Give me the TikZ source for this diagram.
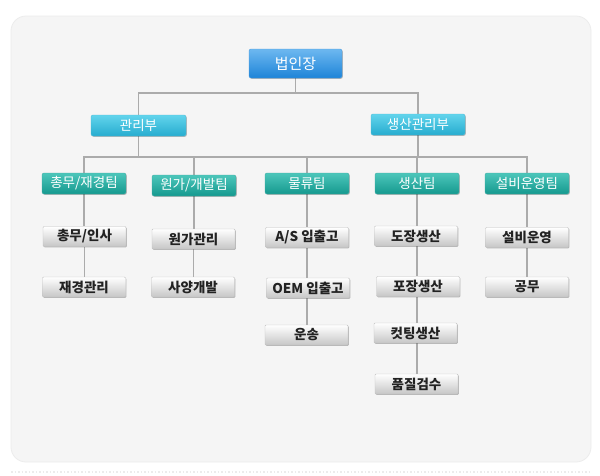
\documentclass[tikz,border=0pt]{standalone}
\usepackage{fontspec}
\setmainfont{Noto Sans CJK KR}
\usetikzlibrary{shadows,backgrounds}
\definecolor{panelfill}{HTML}{F5F5F5}
\definecolor{panelline}{HTML}{ECECEC}
\definecolor{ceotop}{HTML}{6DB8F0}
\definecolor{ceobot}{HTML}{1E84D8}
\definecolor{depttop}{HTML}{62D4EC}
\definecolor{deptbot}{HTML}{26ACCF}
\definecolor{teamtop}{HTML}{4CC6BA}
\definecolor{teambot}{HTML}{15998F}
\definecolor{leafbot}{HTML}{C6C6C6}
\definecolor{leafline}{HTML}{C2C2C2}
\definecolor{conncol}{HTML}{ABABAB}
\definecolor{leaftext}{HTML}{222222}
\tikzset{
  base/.style={rounded corners=2pt, inner sep=0pt, align=center,
    drop shadow={shadow xshift=0.8pt, shadow yshift=-0.8pt, opacity=0.25, fill=black}},
  ceobox/.style={base, minimum width=93pt, minimum height=29pt,
    top color=ceotop, bottom color=ceobot, draw=ceobot!80, text=white, font=\fontsize{15}{17}\selectfont},
  deptbox/.style={base, minimum width=95pt, minimum height=21pt,
    top color=depttop, bottom color=deptbot, draw=deptbot!80, text=white, font=\fontsize{13.5}{15}\selectfont},
  teambox/.style={base, minimum width=84pt, minimum height=21pt,
    top color=teamtop, bottom color=teambot, draw=teambot!80, text=white, font=\fontsize{13.5}{15}\selectfont},
  leafbox/.style={base, rounded corners=1pt, minimum width=83pt, minimum height=20pt,
    top color=white, bottom color=leafbot, draw=leafline, text=leaftext, font=\fontsize{13.5}{15}\selectfont\bfseries},
  conn/.style={draw=conncol, line width=1.2pt}
}
\begin{document}
\begin{tikzpicture}[x=1pt,y=-1pt]
\useasboundingbox (0,0) rectangle (600,475);

% bus coordinates
\coordinate (b1) at (0,93);
\coordinate (b2) at (0,157);

% nodes
\node[ceobox]  (ceo)   at (295.5,63.5) {법인장};
\node[deptbox] (dept1) at (138.5,125.5) {관리부};
\node[deptbox, minimum width=94pt] (dept2) at (418,124.5) {생산관리부};

\node[teambox] (team1) at (84,183.5) {총무/재경팀};
\node[teambox] (team2) at (194,185.5) {원가/개발팀};
\node[teambox] (team3) at (307,183.5) {물류팀};
\node[teambox] (team4) at (417,183.5) {생산팀};
\node[teambox] (team5) at (527,183.5) {설비운영팀};

\node[leafbox] (l11) at (84.5,236.5) {총무/인사};
\node[leafbox] (l12) at (84,287)    {재경관리};
\node[leafbox] (l21) at (193.5,239) {원가관리};
\node[leafbox] (l22) at (193,287)   {사양개발};
\node[leafbox] (l31) at (307,237.5) {A/S 입출고};
\node[leafbox] (l32) at (308,288)   {OEM 입출고};
\node[leafbox] (l33) at (306.5,335) {운송};
\node[leafbox] (l41) at (416,236)   {도장생산};
\node[leafbox] (l42) at (418,286.5) {포장생산};
\node[leafbox] (l43) at (415.5,333) {컷팅생산};
\node[leafbox] (l44) at (416.5,384) {품질검수};
\node[leafbox] (l51) at (527,237.5) {설비운영};
\node[leafbox] (l52) at (527,287)   {공무};

\begin{scope}[on background layer]
\fill[white] (0,0) rectangle (600,475);
\draw[panelline, fill=panelfill, line width=0.8pt, rounded corners=15pt] (11,16) rectangle (591,462);
\draw[panelline, line width=1.5pt, dotted] (11,472) -- (591,472);

% top level
\draw[conn] (ceo.south) -- (ceo.south |- b1);
\draw[conn] (dept1.north) |- (ceo.south |- b1) -| (dept2.north);
% second bus
\draw[conn] (dept1.south) -- (dept1.south |- b2);
\draw[conn] (dept2.south) -- (dept2.south |- b2);
\draw[conn] (team1.north) |- (team5.north |- b2) -- (team5.north);
\draw[conn] (team2.north) -- (team2.north |- b2);
\draw[conn] (team3.north) -- (team3.north |- b2);
\draw[conn] (team4.north) -- (team4.north |- b2);
% columns
\draw[conn] (team1.south) -- (team1.south |- l11.north);
\draw[conn] (l11.south) -- (l11.south |- l12.north);
\draw[conn] (team2.south) -- (team2.south |- l21.north);
\draw[conn] (l21.south) -- (l21.south |- l22.north);
\draw[conn] (team3.south) -- (team3.south |- l31.north);
\draw[conn] (l31.south) -- (l31.south |- l32.north);
\draw[conn] (l32.south -| l31.south) -- (l31.south |- l33.north);
\draw[conn] (team4.south) -- (team4.south |- l41.north);
\draw[conn] (l41.south -| team4.south) -- (team4.south |- l42.north);
\draw[conn] (l42.south -| team4.south) -- (team4.south |- l43.north);
\draw[conn] (l43.south -| team4.south) -- (team4.south |- l44.north);
\draw[conn] (team5.south) -- (team5.south |- l51.north);
\draw[conn] (l51.south) -- (l51.south |- l52.north);
\end{scope}

\end{tikzpicture}
\end{document}
